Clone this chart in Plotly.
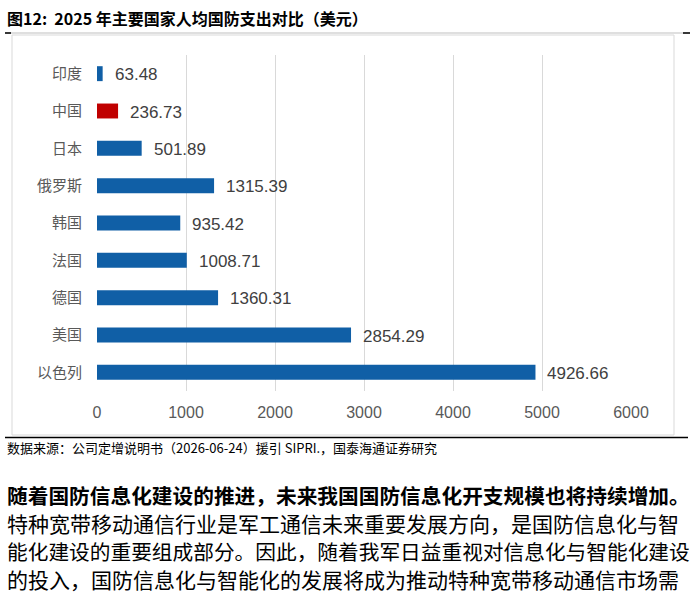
import plotly.graph_objects as go

categories = ["印度", "中国", "日本", "俄罗斯", "韩国", "法国", "德国", "美国", "以色列"]
values = [63.48, 236.73, 501.89, 1315.39, 935.42, 1008.71, 1360.31, 2854.29, 4926.66]
highlight = "中国"
tick_vals = [0, 1000, 2000, 3000, 4000, 5000, 6000]

title_text = "图12:  2025 年主要国家人均国防支出对比（美元）"
source_text = "数据来源：公司定增说明书（2026-06-24）援引 SIPRI.，国泰海通证券研究"
body_lines = [
    "随着国防信息化建设的推进，未来我国国防信息化开支规模也将持续增加。",
    "特种宽带移动通信行业是军工通信未来重要发展方向，是国防信息化与智",
    "能化建设的重要组成部分。因此，随着我军日益重视对信息化与智能化建设",
    "的投入，国防信息化与智能化的发展将成为推动特种宽带移动通信市场需",
]

W, H = 693, 595
def px(x): return x / W
def py(y): return (H - y) / H

colors = ["#C00000" if c == highlight else "#105FA6" for c in categories]

fig = go.Figure()
fig.add_trace(go.Bar(
    y=categories, x=values, orientation="h",
    marker=dict(color=colors, line=dict(width=0)),
    width=0.4, hoverinfo="skip",
))

annotations = []
for c, v in zip(categories, values):
    annotations.append(dict(
        x=v, y=c, xref="x", yref="y", text=f"{v:.2f}", showarrow=False,
        xanchor="left", yanchor="middle", xshift=10, yshift=-1,
        font=dict(family="Liberation Sans, Arial", size=17, color="#404040"),
    ))

cjk = "Noto Sans CJK SC"
annotations.append(dict(
    x=px(5), y=py(18), xref="paper", yref="paper", text="<b>" + title_text + "</b>",
    showarrow=False, xanchor="left", yanchor="middle",
    font=dict(family=cjk, size=16, color="#000000"),
))
annotations.append(dict(
    x=px(5), y=py(447), xref="paper", yref="paper", text=source_text,
    showarrow=False, xanchor="left", yanchor="middle",
    font=dict(family=cjk, size=13, color="#000000"),
))
body_y = [495, 523, 551, 579]
for i, (line, yy) in enumerate(zip(body_lines, body_y)):
    t = "<b>" + line + "</b>" if i == 0 else line
    size = min(21, 683 / len(line))
    annotations.append(dict(
        x=px(5), y=py(yy), xref="paper", yref="paper", text=t,
        showarrow=False, xanchor="left", yanchor="middle",
        font=dict(family=cjk, size=size, color="#000000"),
    ))

shapes = [
    dict(type="line", xref="paper", yref="paper", x0=px(5), x1=px(690), y0=py(33), y1=py(33),
         line=dict(color="#BFBFBF", width=1)),
    dict(type="line", xref="paper", yref="paper", x0=px(5), x1=px(11), y0=py(33), y1=py(33),
         line=dict(color="#000000", width=1.5)),
    dict(type="line", xref="paper", yref="paper", x0=px(683), x1=px(690), y0=py(33), y1=py(33),
         line=dict(color="#000000", width=1.5)),
    dict(type="rect", xref="paper", yref="paper", x0=px(12), x1=px(674), y0=py(435), y1=py(35),
         line=dict(color="#D9D9D9", width=1)),
    dict(type="line", xref="paper", yref="paper", x0=px(5), x1=px(688), y0=py(437.5), y1=py(437.5),
         line=dict(color="#000000", width=1.5)),
]

fig.update_layout(
    width=W, height=H,
    margin=dict(l=0, r=0, t=0, b=0),
    paper_bgcolor="white", plot_bgcolor="white",
    showlegend=False,
    annotations=annotations,
    shapes=shapes,
    xaxis=dict(
        domain=[px(97), px(631)], range=[0, 6000],
        tickvals=tick_vals, ticktext=[str(t) for t in tick_vals],
        showgrid=True, gridcolor="#D9D9D9", gridwidth=1,
        zeroline=False, showline=False, ticks="",
        tickfont=dict(family="Liberation Sans, Arial", size=16, color="#595959"),
        ticklabelstandoff=10, automargin=False,
    ),
    yaxis=dict(
        domain=[py(391), py(55)],
        categoryorder="array", categoryarray=categories[::-1],
        showgrid=False, zeroline=False, showline=False, ticks="",
        tickfont=dict(family=cjk, size=15, color="#595959"),
        ticklabelstandoff=14, automargin=False,
    ),
)

fig.write_html(
    "out.html",
    config={"displayModeBar": False},
    post_script="document.body.style.margin='0';document.body.style.padding='0';document.body.style.overflow='hidden';",
)
